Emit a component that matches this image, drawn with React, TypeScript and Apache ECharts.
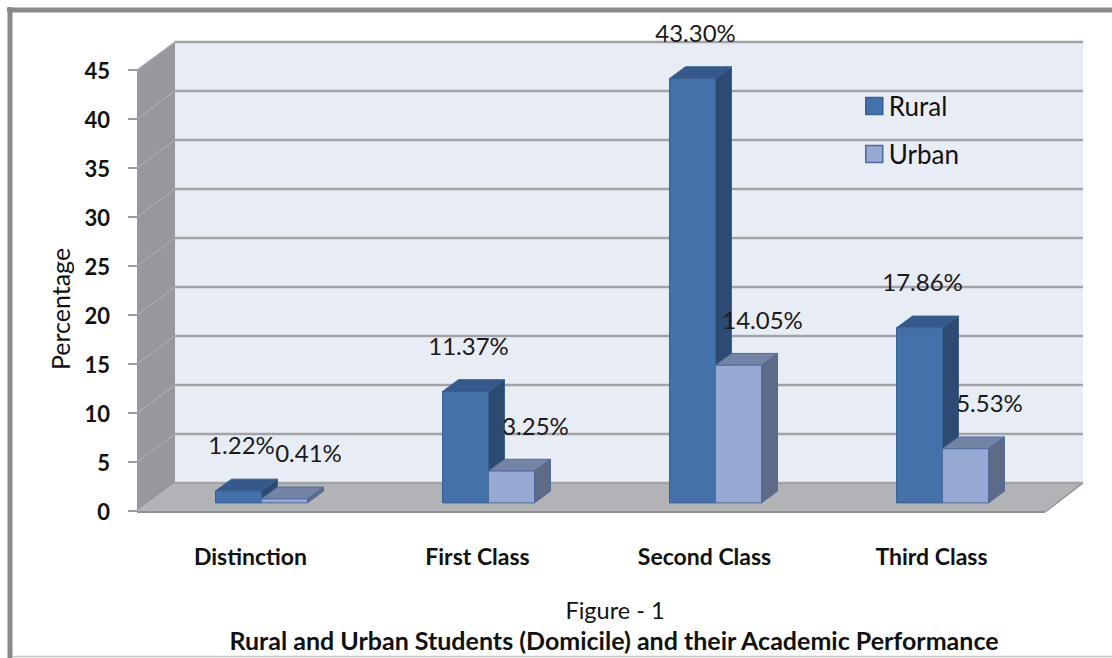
import React, { useEffect, useRef } from "react";
import * as echarts from "echarts";

const categories = ["Distinction", "First Class", "Second Class", "Third Class"];
const rural = [1.22, 11.37, 43.3, 17.86];
const urban = [0.41, 3.25, 14.05, 5.53];
const seriesNames = ["Rural", "Urban"];
const yMin = 0;
const yMax = 45;
const yStep = 5;

const FONT = "Lato, 'Open Sans', sans-serif";
const DEPTH_X = 38;
const DEPTH_Y = -28;
const BAR_PLANE = 0.29;
const BAR_DEPTH = 0.42;
const BAR_FRAC = 46 / 227;

const COLORS = [
  { front: "#4471aa", top: "#35598a", side: "#2d4a72", stroke: "#3a6193", labelDx: 3 },
  { front: "#95a9d3", top: "#7384a4", side: "#5e6b88", stroke: "#4f6b9c", labelDx: 24 },
];

function wallRender(params: any, api: any) {
  const cs = params.coordSys;
  const x0 = cs.x;
  const x1 = cs.x + cs.width;
  const yAt = (v: number) => api.coord([0, v])[1];
  const y0 = yAt(yMin);
  const yT = yAt(yMax);
  const children: any[] = [];
  children.push({
    type: "polygon",
    shape: { points: [[x0 + DEPTH_X, yT + DEPTH_Y], [x1 + DEPTH_X, yT + DEPTH_Y], [x1 + DEPTH_X, y0 + DEPTH_Y], [x0 + DEPTH_X, y0 + DEPTH_Y]] },
    style: { fill: "#e8ecf5" },
  });
  children.push({
    type: "polygon",
    shape: { points: [[x0, yT], [x0 + DEPTH_X, yT + DEPTH_Y], [x0 + DEPTH_X, y0 + DEPTH_Y], [x0, y0]] },
    style: { fill: "#96989c" },
  });
  children.push({
    type: "polygon",
    shape: { points: [[x0, y0], [x0 + DEPTH_X, y0 + DEPTH_Y], [x1 + DEPTH_X, y0 + DEPTH_Y], [x1, y0]] },
    style: { fill: "#b1b3b7" },
  });
  children.push({
    type: "line",
    shape: { x1: x0, y1: y0 + 1, x2: x1, y2: y0 + 1 },
    style: { stroke: "#8e9093", lineWidth: 2 },
  });
  children.push({
    type: "line",
    shape: { x1: x1, y1: y0 + 1, x2: x1 + DEPTH_X, y2: y0 + DEPTH_Y },
    style: { stroke: "#8e9093", lineWidth: 1.5 },
  });
  for (let v = yMin; v <= yMax; v += yStep) {
    const y = yAt(v);
    children.push({
      type: "line",
      shape: { x1: x0 + DEPTH_X, y1: y + DEPTH_Y, x2: x1 + DEPTH_X, y2: y + DEPTH_Y },
      style: { stroke: "#a2a3a6", lineWidth: 2.5 },
    });
    if (v > yMin) {
      children.push({
        type: "line",
        shape: { x1: x0, y1: y, x2: x0 + DEPTH_X, y2: y + DEPTH_Y },
        style: { stroke: "#a9abae", lineWidth: 1.2 },
      });
    }
  }
  return { type: "group", children, silent: true };
}

function barRender(sIdx: number) {
  return (params: any, api: any) => {
    const i = api.value(0);
    const v = api.value(1);
    const topPt = api.coord([i, v]);
    const basePt = api.coord([i, 0]);
    const catW = api.size([1, 0])[0];
    const bw = catW * BAR_FRAC;
    const sx = DEPTH_X * BAR_PLANE;
    const sy = DEPTH_Y * BAR_PLANE;
    const dx = DEPTH_X * BAR_DEPTH;
    const dy = DEPTH_Y * BAR_DEPTH;
    const xl = topPt[0] + sx + (sIdx === 0 ? -bw : 0);
    const xr = xl + bw;
    const yt = topPt[1] + sy;
    const yb = basePt[1] + sy;
    const c = COLORS[sIdx];
    return {
      type: "group",
      children: [
        {
          type: "polygon",
          shape: { points: [[xl, yt], [xr, yt], [xr + dx, yt + dy], [xl + dx, yt + dy]] },
          style: { fill: c.top, stroke: c.stroke, lineWidth: 1 },
        },
        {
          type: "polygon",
          shape: { points: [[xr, yt], [xr + dx, yt + dy], [xr + dx, yb + dy], [xr, yb]] },
          style: { fill: c.side, stroke: c.stroke, lineWidth: 1 },
        },
        {
          type: "rect",
          shape: { x: xl, y: yt, width: bw, height: yb - yt },
          style: { fill: c.front, stroke: c.stroke, lineWidth: 1 },
        },
        {
          type: "text",
          x: (xl + xr) / 2 + c.labelDx,
          y: yt - 46,
          style: {
            text: v.toFixed(2) + "%",
            fill: "#1a1a1a",
            fontSize: 24,
            fontFamily: FONT,
            align: "center",
            verticalAlign: "middle",
            textAlign: "center",
            textVerticalAlign: "middle",
          },
        },
      ],
    };
  };
}

export default function App() {
  const ref = useRef<HTMLDivElement>(null);
  useEffect(() => {
    if (!ref.current) return;
    const chart = echarts.init(ref.current, null, { renderer: "svg" });
    const seriesData = [rural, urban];
    chart.setOption({
      animation: false,
      backgroundColor: "#ffffff",
      grid: { left: 137, top: 70, width: 908, height: 441, containLabel: false },
      xAxis: {
        type: "category",
        data: categories,
        boundaryGap: true,
        axisLine: { show: false },
        axisTick: { show: false },
        axisLabel: { margin: 33, fontSize: 23, fontWeight: "bold", color: "#111", fontFamily: FONT },
      },
      yAxis: {
        type: "value",
        min: yMin,
        max: yMax,
        interval: yStep,
        axisLine: { show: false },
        axisTick: { show: true, length: 9, lineStyle: { color: "#9a9a9a", width: 2 } },
        splitLine: { show: false },
        axisLabel: { margin: 27, fontSize: 22, fontWeight: "bold", color: "#111", fontFamily: FONT },
      },
      legend: {
        orient: "vertical",
        left: 865,
        top: 93,
        padding: 0,
        itemWidth: 17,
        itemHeight: 17,
        itemGap: 22,
        icon: "rect",
        textStyle: { fontSize: 26, color: "#111", fontFamily: FONT, padding: [0, 0, 0, 1] },
        data: seriesNames.map((n, k) => ({
          name: n,
          itemStyle: { color: COLORS[k].front, borderColor: COLORS[k].stroke, borderWidth: 1.5 },
        })),
      },
      graphic: [
        { type: "line", shape: { x1: 7, y1: 10, x2: 1112, y2: 10 }, style: { stroke: "#8a8a8a", lineWidth: 5 } },
        { type: "line", shape: { x1: 10, y1: 7, x2: 10, y2: 658 }, style: { stroke: "#8a8a8a", lineWidth: 5 } },
        { type: "line", shape: { x1: 12, y1: 656.5, x2: 1112, y2: 656.5 }, style: { stroke: "#c4c4c4", lineWidth: 1.5 } },
        {
          type: "text",
          x: 60,
          y: 309,
          rotation: Math.PI / 2,
          style: {
            text: "Percentage",
            fill: "#111",
            fontSize: 25,
            fontFamily: FONT,
            textAlign: "center",
            textVerticalAlign: "middle",
          },
        },
        {
          type: "text",
          x: 615,
          y: 610,
          style: {
            text: "Figure - 1",
            fill: "#111",
            fontSize: 23.5,
            fontFamily: FONT,
            textAlign: "center",
            textVerticalAlign: "middle",
          },
        },
        {
          type: "text",
          x: 614,
          y: 640,
          style: {
            text: "Rural and Urban Students (Domicile) and their Academic Performance",
            fill: "#111",
            fontSize: 25,
            fontWeight: "bold",
            fontFamily: FONT,
            textAlign: "center",
            textVerticalAlign: "middle",
          },
        },
      ],
      series: [
        {
          type: "custom",
          name: "walls",
          silent: true,
          z: 1,
          clip: false,
          renderItem: wallRender,
          data: [[0, 0]],
          encode: { x: 0, y: 1 },
        },
        ...seriesNames.map((n, k) => ({
          type: "custom",
          name: n,
          z: 2 + k,
          clip: false,
          itemStyle: { color: COLORS[k].front, borderColor: COLORS[k].stroke },
          renderItem: barRender(k),
          encode: { x: 0, y: 1 },
          data: categories.map((_, i) => [i, seriesData[k][i]]),
        })),
      ],
    });
    return () => chart.dispose();
  }, []);
  return (
    <div
      ref={ref}
      style={{ position: "fixed", left: 0, top: 0, width: 1112, height: 658, background: "#fff" }}
    />
  );
}
